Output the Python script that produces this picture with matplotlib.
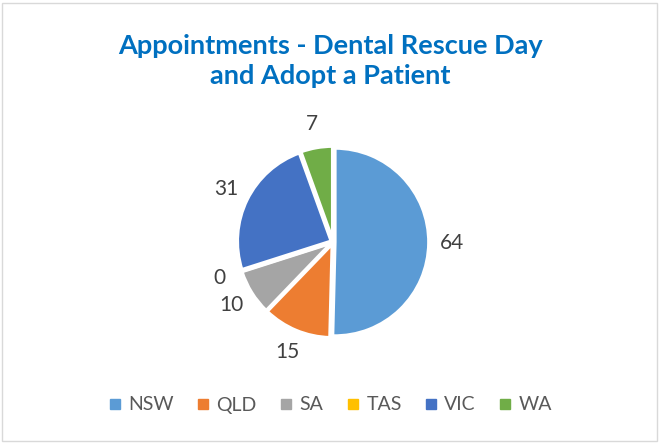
import numpy as np
import matplotlib

matplotlib.use("Agg")
import matplotlib.pyplot as plt
from matplotlib.lines import Line2D
from matplotlib.patches import Rectangle

plt.rcParams["font.family"] = ["Lato", "DejaVu Sans"]

states = ["NSW", "QLD", "SA", "TAS", "VIC", "WA"]
appointments = [64, 15, 10, 0, 31, 7]
colors = ["#5B9BD5", "#ED7D31", "#A5A5A5", "#FFC000", "#4472C4", "#70AD47"]

W, H = 660, 443
fig = plt.figure(figsize=(W / 100, H / 100), dpi=100)

# pie axes placed so the pie sits where it does in the original
cx, cy, r = 333, H - 242, 94
lim = 1.4
ax = fig.add_axes([(cx - r * lim) / W, (cy - r * lim) / H, 2 * r * lim / W, 2 * r * lim / H])

wedges, _ = ax.pie(
    appointments,
    colors=colors,
    startangle=90,
    counterclock=False,
    explode=[0.02] * len(appointments),
    wedgeprops=dict(edgecolor="white", linewidth=2.5),
)
ax.set_xlim(-lim, lim)
ax.set_ylim(-lim, lim)
ax.set_aspect("equal")
ax.axis("off")

# data labels outside the slices
for w, v in zip(wedges, appointments):
    ang = np.deg2rad((w.theta1 + w.theta2) / 2)
    x, y = 1.27 * np.cos(ang), 1.27 * np.sin(ang)
    ax.text(x, y, str(v), ha="center", va="center", fontsize=15, color="#404040")

fig.text(
    0.5,
    1 - 61 / H,
    "Appointments - Dental Rescue Day\nand Adopt a Patient",
    ha="center",
    va="center",
    fontsize=19.5,
    fontweight="bold",
    color="#0070C0",
    linespacing=1.3,
)

handles = [
    Line2D([], [], marker="s", linestyle="none", markersize=7.5, color=c, label=s)
    for s, c in zip(states, colors)
]
leg = fig.legend(
    handles=handles,
    loc="center",
    bbox_to_anchor=(0.5, 1 - 405 / H),
    ncol=6,
    frameon=False,
    fontsize=14,
    handlelength=0.7,
    handletextpad=0.35,
    columnspacing=1.15,
)
for t in leg.get_texts():
    t.set_color("#595959")

fig.patches.append(
    Rectangle((2 / W, 2 / H), 1 - 5 / W, 1 - 5 / H, transform=fig.transFigure,
              fill=False, edgecolor="#D9D9D9", linewidth=1)
)

fig.savefig("out.png", dpi=100)
